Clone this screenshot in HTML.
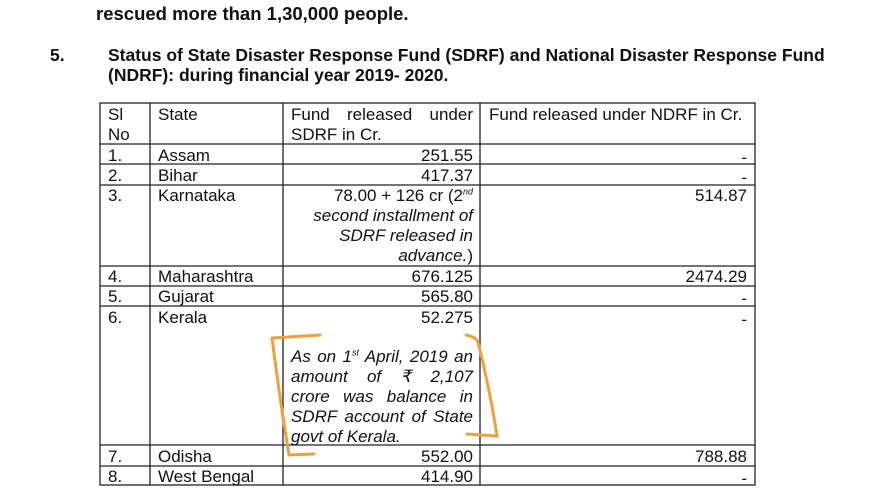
<!DOCTYPE html>
<html><head><meta charset="utf-8">
<style>
body{margin:0;width:870px;height:502px;background:#fff;overflow:hidden;position:relative;font-family:"Liberation Sans",Arial,sans-serif;color:#111}
.t{position:absolute;font-size:17px;line-height:20px;white-space:nowrap}
.b{font-weight:bold}
.r{text-align:right}
.i{font-style:italic}
sup{font-size:9px;line-height:0}
.j{display:block;text-align:justify;text-align-last:justify;white-space:normal}
</style></head><body>
<div class="t b" style="left:96px;top:4px;font-size:18.5px">rescued more than 1,30,000 people.</div>
<div class="t b" style="left:50px;top:45px;font-size:17.5px">5.</div>
<div class="t b" style="left:108px;top:45px;font-size:17.5px">Status of State Disaster Response Fund (SDRF) and National Disaster Response Fund<br>(NDRF): during financial year 2019- 2020.</div>

<svg width="870" height="502" style="position:absolute;left:0;top:0">
<g stroke="#222" stroke-width="1.3" fill="none">
<rect x="100" y="103" width="655" height="382"/>
<line x1="150" y1="103" x2="150" y2="485"/>
<line x1="283" y1="103" x2="283" y2="485"/>
<line x1="480" y1="103" x2="480" y2="485"/>
<line x1="100" y1="144" x2="755" y2="144"/>
<line x1="100" y1="164" x2="755" y2="164"/>
<line x1="100" y1="185" x2="755" y2="185"/>
<line x1="100" y1="266" x2="755" y2="266"/>
<line x1="100" y1="286" x2="755" y2="286"/>
<line x1="100" y1="306" x2="755" y2="306"/>
<line x1="100" y1="445" x2="755" y2="445"/>
<line x1="100" y1="466" x2="755" y2="466"/>
</g>
<g stroke="#f0a03a" stroke-width="3" fill="none" stroke-linecap="round">
<path d="M320 335 L272 338 Q280 400 289 455 L314 454"/>
<path d="M466 335 Q476 337 478 342 Q490 390 497 436 L467 434"/>
</g>
</svg>

<div class="t" style="left:108px;top:105px">Sl<br>No</div>
<div class="t" style="left:158px;top:105px">State</div>
<div class="t" style="left:291px;top:105px;width:182px"><span class="j">Fund released under</span>SDRF in Cr.</div>
<div class="t" style="left:489px;top:105px">Fund released under NDRF in Cr.</div>

<div>
<div class="t" style="left:108px;top:146px">1.</div><div class="t" style="left:158px;top:146px">Assam</div>
<div class="t r" style="left:283px;width:190px;top:146px">251.55</div><div class="t r" style="left:480px;width:267px;top:148px">-</div></div>
<div>
<div class="t" style="left:108px;top:166px">2.</div><div class="t" style="left:158px;top:166px">Bihar</div>
<div class="t r" style="left:283px;width:190px;top:166px">417.37</div><div class="t r" style="left:480px;width:267px;top:168px">-</div></div>
<div>
<div class="t" style="left:108px;top:186px">3.</div><div class="t" style="left:158px;top:186px">Karnataka</div>
<div class="t r" style="left:283px;width:190px;top:186px">78.00 + 126 cr (2<sup class="i">nd</sup><br><span class="i">second installment of<br>SDRF released in<br>advance.</span>)</div>
<div class="t r" style="left:480px;width:267px;top:186px">514.87</div></div>
<div>
<div class="t" style="left:108px;top:267px">4.</div><div class="t" style="left:158px;top:267px">Maharashtra</div>
<div class="t r" style="left:283px;width:190px;top:267px">676.125</div><div class="t r" style="left:480px;width:267px;top:267px">2474.29</div></div>
<div>
<div class="t" style="left:108px;top:287px">5.</div><div class="t" style="left:158px;top:287px">Gujarat</div>
<div class="t r" style="left:283px;width:190px;top:287px">565.80</div><div class="t r" style="left:480px;width:267px;top:289px">-</div></div>
<div>
<div class="t" style="left:108px;top:308px">6.</div><div class="t" style="left:158px;top:308px">Kerala</div>
<div class="t r" style="left:283px;width:190px;top:308px">52.275</div><div class="t r" style="left:480px;width:267px;top:310px">-</div>
<div class="t i" style="left:291px;top:347px;width:182px"><span class="j">As on 1<sup>st</sup> April, 2019 an</span><span class="j">amount of ₹ 2,107</span><span class="j">crore was balance in</span><span class="j">SDRF account of State</span>govt of Kerala.</div>
</div>
<div>
<div class="t" style="left:108px;top:447px">7.</div><div class="t" style="left:158px;top:447px">Odisha</div>
<div class="t r" style="left:283px;width:190px;top:447px">552.00</div><div class="t r" style="left:480px;width:267px;top:447px">788.88</div></div>
<div>
<div class="t" style="left:108px;top:467px">8.</div><div class="t" style="left:158px;top:467px">West Bengal</div>
<div class="t r" style="left:283px;width:190px;top:467px">414.90</div><div class="t r" style="left:480px;width:267px;top:469px">-</div></div>
</body></html>
